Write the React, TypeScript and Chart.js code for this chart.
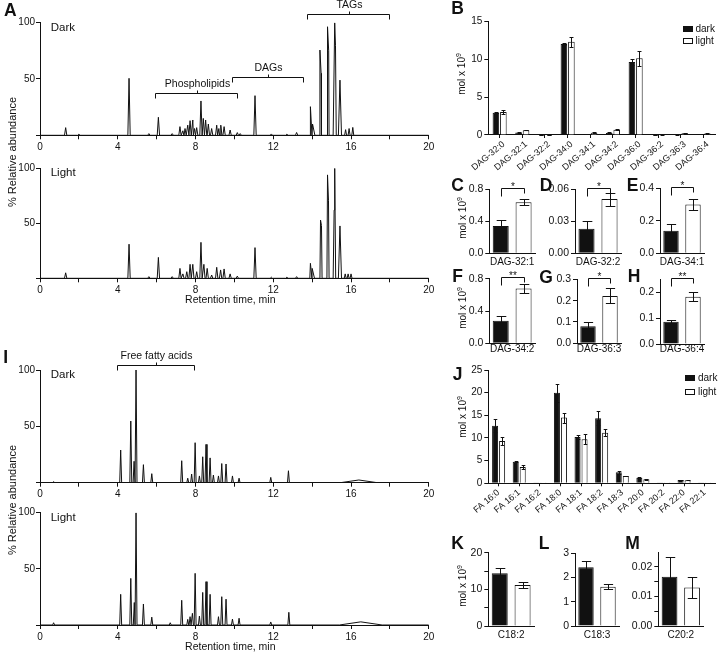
import React, { useEffect, useRef } from 'react';
import { Chart, registerables } from 'chart.js';

Chart.register(...registerables);

const FONT_FAMILY = '"Liberation Sans", Arial, Helvetica, sans-serif';
const INK = '#111';
const PAGE_W = 720;
const PAGE_H = 652;

Chart.defaults.font.family = FONT_FAMILY;
Chart.defaults.color = INK;

// ---------------- Chromatograms: peak retention time (min), height (%), half-width (min)
const aDarkTimes = [1.32, 2.0, 4.58, 5.6, 6.09, 6.8, 7.2, 7.35, 7.46, 7.6, 7.72, 7.86, 7.95, 8.06, 8.28, 8.4, 8.52, 8.66, 8.83, 9.09, 9.2, 9.3, 9.47, 9.78, 10.15, 10.3, 11.06, 11.9, 12.7, 13.2, 13.91, 14.02, 14.4, 14.46, 14.79, 14.85, 15.16, 15.2, 15.43, 15.72, 15.9, 16.09];
const aDarkHeights = [6.8, 1, 50.6, 1.5, 16, 1.5, 7.7, 4, 6, 9, 13, 13.6, 6, 6.8, 30.5, 15, 13.6, 10, 6, 9, 6, 9, 7.7, 4.7, 2.4, 1.5, 35.2, 1.2, 1, 2.5, 25.4, 10, 75.7, 55, 96.4, 75, 100, 80, 49, 5, 6, 7];
const aDarkWidths = [0.06, 0.06, 0.06, 0.06, 0.06, 0.06, 0.06, 0.06, 0.06, 0.06, 0.06, 0.06, 0.06, 0.06, 0.06, 0.06, 0.06, 0.06, 0.06, 0.06, 0.06, 0.06, 0.06, 0.06, 0.06, 0.06, 0.06, 0.06, 0.06, 0.06, 0.08, 0.12, 0.08, 0.08, 0.08, 0.08, 0.08, 0.08, 0.08, 0.05, 0.05, 0.05];

const aLightTimes = [1.32, 4.58, 5.6, 6.09, 6.8, 7.2, 7.35, 7.55, 7.72, 7.86, 8.06, 8.28, 8.43, 8.6, 8.83, 9.09, 9.29, 9.47, 9.78, 10.15, 11.06, 11.9, 12.7, 13.2, 13.91, 14.0, 14.43, 14.48, 14.79, 14.84, 15.13, 15.16, 15.43, 15.7, 15.85, 16.0];
const aLightHeights = [5, 31, 1.5, 19, 1.5, 9, 4, 6, 12.7, 12.7, 6, 32.7, 12.7, 9, 3, 10, 7.6, 8.5, 4, 2, 27.9, 1, 1, 1.5, 13.6, 9, 53, 48, 94, 71, 62, 100, 47.6, 4, 4, 4];
const aLightWidths = [0.06, 0.06, 0.06, 0.06, 0.06, 0.06, 0.06, 0.06, 0.06, 0.06, 0.06, 0.06, 0.06, 0.06, 0.06, 0.06, 0.06, 0.06, 0.06, 0.06, 0.06, 0.06, 0.06, 0.06, 0.08, 0.12, 0.08, 0.08, 0.08, 0.08, 0.08, 0.08, 0.08, 0.05, 0.05, 0.05];

const iDarkTimes = [0.7, 4.15, 4.67, 4.84, 4.94, 5.32, 5.75, 7.29, 7.6, 7.8, 7.98, 8.2, 8.37, 8.54, 8.75, 8.92, 9.18, 9.35, 9.57, 9.9, 10.24, 11.87, 12.78, 16.4];
const iDarkHeights = [1, 29, 54.7, 19, 100, 16, 8, 19.5, 4, 7.7, 35.5, 6, 23, 34, 22, 6.8, 6, 17, 16.6, 6, 4, 4.7, 10.6, 2.4];
const iDarkWidths = [0.05, 0.05, 0.05, 0.05, 0.05, 0.05, 0.05, 0.05, 0.05, 0.05, 0.05, 0.05, 0.05, 0.05, 0.05, 0.05, 0.05, 0.05, 0.05, 0.05, 0.05, 0.05, 0.05, 0.95];

const iLightTimes = [0.7, 4.15, 4.67, 4.85, 4.94, 5.32, 5.75, 6.7, 7.29, 7.6, 7.72, 7.84, 7.98, 8.2, 8.37, 8.54, 8.75, 9.18, 9.35, 9.57, 9.9, 10.24, 11.87, 12.8, 16.5];
const iLightHeights = [2, 27.3, 41.5, 20, 100, 18.7, 7, 2, 22, 5, 7.4, 10.4, 46, 8, 29, 38.6, 27.3, 7.4, 25.2, 23, 5.3, 6, 2.7, 11.3, 2.8];
const iLightWidths = [0.05, 0.05, 0.05, 0.05, 0.05, 0.05, 0.05, 0.05, 0.05, 0.05, 0.05, 0.05, 0.05, 0.05, 0.05, 0.05, 0.05, 0.05, 0.05, 0.05, 0.05, 0.05, 0.05, 0.05, 1.1];

const retentionTicks = [0, 2, 4, 6, 8, 10, 12, 14, 16, 18, 20];
const retentionLabeled = [0, 4, 8, 12, 16, 20];
const abundanceTicks = [0, 50, 100];
const abundanceLabeled = [50, 100];

// lipid class brackets (retention window, level in %)
const aBracketLabels = ['Phospholipids', 'DAGs', 'TAGs'];
const aBracketStart = [5.93, 9.9, 13.71];
const aBracketEnd = [10.12, 13.52, 17.93];
const aBracketLevel = [38, 51.5, 107.7];
const iBracketLabels = ['Free fatty acids'];
const iBracketStart = [3.95];
const iBracketEnd = [7.94];
const iBracketLevel = [104.4];

// ---------------- Panel B: DAG species (mol x 10^9)
const dagSpecies = ['DAG-32:0', 'DAG-32:1', 'DAG-32:2', 'DAG-34:0', 'DAG-34:1', 'DAG-34:2', 'DAG-36:0', 'DAG-36:2', 'DAG-36:3', 'DAG-36:4'];
const dagDark = [2.96, 0.34, 0.023, 12.04, 0.138, 0.28, 9.66, 0.05, 0.08, 0.086];
const dagDarkErr = [0.05, 0.08, 0.007, 0.13, 0.039, 0.062, 0.35, 0.01, 0.02, 0.008];
const dagLight = [3.04, 0.635, 0.0506, 12.35, 0.299, 0.68, 10.15, 0.08, 0.222, 0.183];
const dagLightErr = [0.27, 0.035, 0.006, 0.65, 0.036, 0.054, 1.0, 0.02, 0.035, 0.017];
const dagTicks = [0, 5, 10, 15];

// ---------------- Panels C-H
const dagPanelNames = ['DAG-32:1', 'DAG-32:2', 'DAG-34:1', 'DAG-34:2', 'DAG-36:3', 'DAG-36:4'];
const dagPanelDark = [0.34, 0.023, 0.138, 0.28, 0.08, 0.086];
const dagPanelDarkErr = [0.08, 0.007, 0.039, 0.062, 0.02, 0.008];
const dagPanelLight = [0.635, 0.0506, 0.299, 0.68, 0.222, 0.183];
const dagPanelLightErr = [0.035, 0.006, 0.036, 0.054, 0.035, 0.017];
const dagPanelStars = ['*', '*', '*', '**', '*', '**'];
const dagPanelMax = [0.8, 0.06, 0.4, 0.8, 0.3, 0.25];
const dagPanelTicks = [[0, 0.4, 0.8], [0, 0.03, 0.06], [0, 0.2, 0.4], [0, 0.4, 0.8], [0, 0.1, 0.2, 0.3], [0, 0.1, 0.2]];
const dagPanelDecimals = [1, 2, 1, 1, 1, 1];

// ---------------- Panel J: fatty acids
const faSpecies = ['FA 16:0', 'FA 16:1', 'FA 16:2', 'FA 18:0', 'FA 18:1', 'FA 18:2', 'FA 18:3', 'FA 20:0', 'FA 20:2', 'FA 22:0', 'FA 22:1'];
const faDark = [12.7, 4.78, 0.05, 20.0, 10.2, 14.36, 2.42, 1.25, 0.0166, 0.74, 0.03];
const faDarkErr = [1.4, 0.15, 0.01, 2.0, 0.45, 1.55, 0.26, 0.1, 0.0066, 0.05, 0.01];
const faLight = [9.34, 3.6, 0.05, 14.5, 9.7, 11.18, 1.62, 0.88, 0.013, 0.7, 0.03];
const faLightErr = [0.95, 0.4, 0.01, 1.1, 1.1, 0.8, 0.1, 0.06, 0.0034, 0.05, 0.01];
const faTicks = [0, 5, 10, 15, 20, 25];

// ---------------- Panels K-M
const faPanelNames = ['C18:2', 'C18:3', 'C20:2'];
const faPanelDark = [14.36, 2.42, 0.0166];
const faPanelDarkErr = [1.55, 0.26, 0.0066];
const faPanelLight = [11.18, 1.62, 0.013];
const faPanelLightErr = [0.8, 0.1, 0.0034];
const faPanelMax = [20, 3, 0.025];
const faPanelTicks = [[0, 5, 10, 15, 20], [0, 1, 2, 3], [0, 0.005, 0.01, 0.015, 0.02]];
const faPanelLabeled = [[0, 10, 20], [0, 1, 2, 3], [0, 0.01, 0.02]];
const faPanelDecimals = [0, 0, 2];

// ---------------- Layout (page pixel boxes of plot areas)
type Box = { l: number; t: number; r: number; b: number };
const LAYOUT = {
  aDark: { l: 40, t: 22.7, r: 428.8, b: 135.3 },
  aLight: { l: 40, t: 168.3, r: 428.8, b: 278.3 },
  iDark: { l: 40, t: 370, r: 428.8, b: 482.7 },
  iLight: { l: 40, t: 512.7, r: 428.8, b: 625 },
  b: { l: 488.3, t: 21.7, r: 715, b: 135 },
  dag: [
    { l: 489.3, t: 189, r: 535, b: 253.3 },
    { l: 575, t: 189, r: 621, b: 253.3 },
    { l: 660, t: 188, r: 704, b: 253.3 },
    { l: 489.3, t: 278.7, r: 535, b: 343.3 },
    { l: 577, t: 279.3, r: 621, b: 343.3 },
    { l: 660, t: 279.3, r: 704, b: 344 },
  ] as Box[],
  dagLabelY: [262.3, 262.3, 262.3, 349.3, 349.3, 349.3],
  j: { l: 488.3, t: 370, r: 715, b: 483.3 },
  fa: [
    { l: 488.3, t: 552.7, r: 534, b: 626 },
    { l: 575, t: 553.3, r: 619, b: 626 },
    { l: 658.3, t: 552, r: 703.3, b: 626 },
  ] as Box[],
  faLabelY: 635,
};

const tickFont = { family: FONT_FAMILY, size: 10 };
const near = (a: number, b: number) => Math.abs(a - b) < 1e-9;
// padding so that the plot area lands exactly on the box, given fixed axis band sizes
const pad = (box: Box, yw: number, xh: number) => ({
  left: box.l - yw,
  top: box.t,
  right: PAGE_W - box.r,
  bottom: PAGE_H - box.b - xh,
});
const fixWidth = (w: number) => (s: any) => {
  s.width = w;
};
const fixHeight = (h: number) => (s: any) => {
  s.height = h;
};
const fixedTicks = (values: number[]) => (scale: any) => {
  scale.ticks = values.map((v) => ({ value: v }));
};

function buildTrace(times: number[], heights: number[], widths: number[]) {
  const pts: { x: number; y: number }[] = [
    { x: 0, y: 0 },
    { x: 20, y: 0 },
  ];
  times.forEach((t, i) => {
    const w = widths[i];
    pts.push({ x: t - w, y: 0 }, { x: t, y: heights[i] }, { x: t + w, y: 0 });
  });
  pts.sort((a, b) => a.x - b.x);
  return pts;
}

function bracketPlugin(labels: string[], starts: number[], ends: number[], levels: number[]) {
  return {
    id: 'classBrackets',
    afterDraw(chart: any) {
      const { ctx } = chart;
      const xs = chart.scales.x;
      const ys = chart.scales.y;
      ctx.save();
      ctx.strokeStyle = INK;
      ctx.fillStyle = INK;
      ctx.lineWidth = 1;
      ctx.font = `10.5px ${FONT_FAMILY}`;
      ctx.textAlign = 'center';
      ctx.textBaseline = 'middle';
      labels.forEach((label, i) => {
        const x1 = Math.round(xs.getPixelForValue(starts[i])) + 0.5;
        const x2 = Math.round(xs.getPixelForValue(ends[i])) + 0.5;
        const xm = Math.round((x1 + x2) / 2) + 0.5;
        const y = Math.round(ys.getPixelForValue(levels[i])) + 0.5;
        ctx.beginPath();
        ctx.moveTo(x1, y + 5);
        ctx.lineTo(x1, y);
        ctx.lineTo(x2, y);
        ctx.lineTo(x2, y + 5);
        ctx.moveTo(xm, y);
        ctx.lineTo(xm, y - 3);
        ctx.stroke();
        ctx.fillText(label, xm, y - 9.5);
      });
      ctx.restore();
    },
  };
}

function errorBarsPlugin(values: number[][], errors: number[][]) {
  return {
    id: 'errorBars',
    afterDatasetsDraw(chart: any) {
      const { ctx } = chart;
      const ys = chart.scales.y;
      ctx.save();
      ctx.strokeStyle = INK;
      ctx.lineWidth = 1;
      values.forEach((vals, di) => {
        const meta = chart.getDatasetMeta(di);
        meta.data.forEach((bar: any, i: number) => {
          const e = errors[di][i];
          if (!e) return;
          const v = vals[i];
          const x = Math.round(bar.x) + 0.5;
          const yt = Math.round(ys.getPixelForValue(v + e)) + 0.5;
          const yb = Math.round(ys.getPixelForValue(Math.max(v - e, 0))) + 0.5;
          const cw = Math.max(bar.width * 0.3, 1.5);
          ctx.beginPath();
          ctx.moveTo(x, yt);
          ctx.lineTo(x, yb);
          ctx.moveTo(x - cw, yt);
          ctx.lineTo(x + cw, yt);
          ctx.moveTo(x - cw, yb);
          ctx.lineTo(x + cw, yb);
          ctx.stroke();
        });
      });
      ctx.restore();
    },
  };
}

function sigPlugin(text: string) {
  return {
    id: 'sigBracket',
    afterDatasetsDraw(chart: any) {
      const { ctx, chartArea } = chart;
      const meta = chart.getDatasetMeta(0);
      const b0 = meta.data[0];
      const b1 = meta.data[1];
      const x1 = Math.round(b0.x) + 0.5;
      const x2 = Math.round(b1.x) + 0.5;
      const y = Math.round(chartArea.top - 1.5) + 0.5;
      ctx.save();
      ctx.strokeStyle = INK;
      ctx.fillStyle = INK;
      ctx.lineWidth = 1;
      ctx.beginPath();
      ctx.moveTo(x1, y + 8);
      ctx.lineTo(x1, y);
      ctx.lineTo(x2, y);
      ctx.lineTo(x2, y + 5);
      ctx.stroke();
      ctx.font = `10px ${FONT_FAMILY}`;
      ctx.textAlign = 'center';
      ctx.textBaseline = 'alphabetic';
      ctx.fillText(text, (x1 + x2) / 2, y + 1);
      ctx.restore();
    },
  };
}

const axisBorder = { display: true, color: INK, width: 1 };

function chromConfig(box: Box, times: number[], heights: number[], widths: number[], plugins: any[]) {
  const YW = 40;
  const XH = 17;
  return {
    type: 'line',
    data: {
      datasets: [
        {
          data: buildTrace(times, heights, widths),
          borderColor: INK,
          borderWidth: 1,
          pointRadius: 0,
          tension: 0,
          fill: false,
        },
      ],
    },
    options: {
      animation: false,
      responsive: false,
      events: [],
      layout: { padding: pad(box, YW, XH) },
      plugins: { legend: { display: false }, tooltip: { enabled: false } },
      scales: {
        x: {
          type: 'linear',
          min: 0,
          max: 20,
          afterFit: fixHeight(XH),
          afterBuildTicks: fixedTicks(retentionTicks),
          ticks: {
            autoSkip: false,
            maxRotation: 0,
            padding: 2,
            color: INK,
            font: tickFont,
            callback: (v: number) => (retentionLabeled.some((t) => near(t, v)) ? String(v) : ''),
          },
          grid: { drawOnChartArea: false, tickLength: 4, tickColor: INK, tickWidth: 1 },
          border: axisBorder,
        },
        y: {
          type: 'linear',
          min: 0,
          max: 100,
          afterFit: fixWidth(YW),
          afterBuildTicks: fixedTicks(abundanceTicks),
          ticks: {
            padding: 1,
            color: INK,
            font: tickFont,
            callback: (v: number) => (abundanceLabeled.some((t) => near(t, v)) ? String(v) : ''),
          },
          grid: { drawOnChartArea: false, tickLength: 4, tickColor: INK, tickWidth: 1 },
          border: axisBorder,
        },
      },
    },
    plugins,
  };
}

function groupedBarConfig(
  box: Box,
  labels: string[],
  dark: number[],
  darkErr: number[],
  light: number[],
  lightErr: number[],
  max: number,
  ticks: number[],
  barPct: number,
  catPct: number,
  labelSize: number,
  labelShift: number
) {
  const YW = 40;
  const XH = 55;
  return {
    type: 'bar',
    data: {
      labels,
      datasets: [
        { label: 'dark', data: dark, backgroundColor: INK, borderColor: INK, borderWidth: 1, barPercentage: barPct, categoryPercentage: catPct },
        { label: 'light', data: light, backgroundColor: '#fff', borderColor: INK, borderWidth: 1, barPercentage: barPct, categoryPercentage: catPct },
      ],
    },
    options: {
      animation: false,
      responsive: false,
      events: [],
      layout: { padding: pad(box, YW, XH) },
      plugins: { legend: { display: false }, tooltip: { enabled: false } },
      scales: {
        x: {
          afterFit: fixHeight(XH),
          ticks: {
            autoSkip: false,
            minRotation: 40,
            maxRotation: 40,
            padding: 1,
            labelOffset: labelShift,
            color: INK,
            font: { family: FONT_FAMILY, size: labelSize },
          },
          grid: { offset: false, drawOnChartArea: false, tickLength: 3, tickColor: INK },
          border: axisBorder,
        },
        y: {
          min: 0,
          max,
          afterFit: fixWidth(YW),
          afterBuildTicks: fixedTicks(ticks),
          ticks: { padding: 2, color: INK, font: tickFont },
          grid: { drawOnChartArea: false, tickLength: 4, tickColor: INK },
          border: axisBorder,
        },
      },
    },
    plugins: [errorBarsPlugin([dark, light], [darkErr, lightErr])],
  };
}

function pairConfig(
  box: Box,
  dark: number,
  darkErr: number,
  light: number,
  lightErr: number,
  max: number,
  ticks: number[],
  labeled: number[],
  decimals: number,
  stars: string | null
) {
  const YW = 38;
  const plugins: any[] = [errorBarsPlugin([[dark, light]], [[darkErr, lightErr]])];
  if (stars) plugins.push(sigPlugin(stars));
  return {
    type: 'bar',
    data: {
      labels: ['dark', 'light'],
      datasets: [
        {
          data: [dark, light],
          backgroundColor: [INK, '#fff'],
          borderColor: INK,
          borderWidth: 1,
          barPercentage: 0.7,
          categoryPercentage: 1,
        },
      ],
    },
    options: {
      animation: false,
      responsive: false,
      events: [],
      layout: { padding: pad(box, YW, 0) },
      plugins: { legend: { display: false }, tooltip: { enabled: false } },
      scales: {
        x: {
          afterFit: fixHeight(0),
          ticks: { display: false },
          grid: { display: false },
          border: axisBorder,
        },
        y: {
          min: 0,
          max,
          afterFit: fixWidth(YW),
          afterBuildTicks: fixedTicks(ticks),
          ticks: {
            padding: 2,
            color: INK,
            font: { family: FONT_FAMILY, size: 10.5 },
            callback: (v: number) => (labeled.some((t) => near(t, v)) ? v.toFixed(decimals) : ''),
          },
          grid: { drawOnChartArea: false, tickLength: 4, tickColor: INK },
          border: axisBorder,
        },
      },
    },
    plugins,
  };
}

function makeConfigs(): any[] {
  const cfgs: any[] = [];
  cfgs.push(
    chromConfig(LAYOUT.aDark, aDarkTimes, aDarkHeights, aDarkWidths, [
      bracketPlugin(aBracketLabels, aBracketStart, aBracketEnd, aBracketLevel),
    ])
  );
  cfgs.push(chromConfig(LAYOUT.aLight, aLightTimes, aLightHeights, aLightWidths, []));
  cfgs.push(
    chromConfig(LAYOUT.iDark, iDarkTimes, iDarkHeights, iDarkWidths, [
      bracketPlugin(iBracketLabels, iBracketStart, iBracketEnd, iBracketLevel),
    ])
  );
  cfgs.push(chromConfig(LAYOUT.iLight, iLightTimes, iLightHeights, iLightWidths, []));
  cfgs.push(groupedBarConfig(LAYOUT.b, dagSpecies, dagDark, dagDarkErr, dagLight, dagLightErr, 15, dagTicks, 0.88, 0.66, 9, 4));
  dagPanelNames.forEach((_, i) => {
    cfgs.push(
      pairConfig(
        LAYOUT.dag[i],
        dagPanelDark[i],
        dagPanelDarkErr[i],
        dagPanelLight[i],
        dagPanelLightErr[i],
        dagPanelMax[i],
        dagPanelTicks[i],
        dagPanelTicks[i],
        dagPanelDecimals[i],
        dagPanelStars[i]
      )
    );
  });
  cfgs.push(groupedBarConfig(LAYOUT.j, faSpecies, faDark, faDarkErr, faLight, faLightErr, 25, faTicks, 0.86, 0.68, 9, 0));
  faPanelNames.forEach((_, i) => {
    cfgs.push(
      pairConfig(
        LAYOUT.fa[i],
        faPanelDark[i],
        faPanelDarkErr[i],
        faPanelLight[i],
        faPanelLightErr[i],
        faPanelMax[i],
        faPanelTicks[i],
        faPanelLabeled[i],
        faPanelDecimals[i],
        null
      )
    );
  });
  return cfgs;
}

const CHART_COUNT = 4 + 1 + dagPanelNames.length + 1 + faPanelNames.length;

type TextSpec = { text: React.ReactNode; x: number; y: number; size: number; bold?: boolean; rotate?: boolean; left?: boolean };

const panelLetters: TextSpec[] = [
  { text: 'A', x: 10.3, y: 11 },
  { text: 'B', x: 457.5, y: 9 },
  { text: 'C', x: 457.5, y: 186 },
  { text: 'D', x: 546, y: 186 },
  { text: 'E', x: 632.5, y: 186 },
  { text: 'F', x: 457.5, y: 276.7 },
  { text: 'G', x: 546, y: 277.5 },
  { text: 'H', x: 634, y: 276.7 },
  { text: 'I', x: 5.7, y: 358 },
  { text: 'J', x: 457.5, y: 375 },
  { text: 'K', x: 457.5, y: 544 },
  { text: 'L', x: 544, y: 544 },
  { text: 'M', x: 632.5, y: 544 },
].map((p) => ({ ...p, size: 17.5, bold: true }));

const molTitle = (
  <span>
    mol x 10<sup style={{ fontSize: '70%', verticalAlign: 'super', lineHeight: 0 }}>9</sup>
  </span>
);

const texts: TextSpec[] = [
  ...panelLetters,
  { text: 'Dark', x: 50.7, y: 27.5, size: 11.5, left: true },
  { text: 'Light', x: 50.7, y: 173, size: 11.5, left: true },
  { text: 'Dark', x: 50.7, y: 375, size: 11.5, left: true },
  { text: 'Light', x: 50.7, y: 517.7, size: 11.5, left: true },
  { text: '% Relative abundance', x: 12.3, y: 151.7, size: 11, rotate: true },
  { text: '% Relative abundance', x: 12.3, y: 500, size: 11, rotate: true },
  { text: 'Retention time, min', x: 230.3, y: 299, size: 10.5 },
  { text: 'Retention time, min', x: 230.3, y: 645.7, size: 10.5 },
  { text: molTitle, x: 462, y: 74, size: 10, rotate: true },
  { text: molTitle, x: 463.3, y: 217.5, size: 10, rotate: true },
  { text: molTitle, x: 463.3, y: 308, size: 10, rotate: true },
  { text: molTitle, x: 463.3, y: 416.7, size: 10, rotate: true },
  { text: molTitle, x: 463.3, y: 586, size: 10, rotate: true },
  ...dagPanelNames.map((name, i) => ({
    text: name,
    x: (LAYOUT.dag[i].l + LAYOUT.dag[i].r) / 2,
    y: LAYOUT.dagLabelY[i],
    size: 10,
  })),
  ...faPanelNames.map((name, i) => ({
    text: name,
    x: (LAYOUT.fa[i].l + LAYOUT.fa[i].r) / 2,
    y: LAYOUT.faLabelY,
    size: 10,
  })),
];

const legends = [
  { x: 682.5, y: 29.3, gap: 12 },
  { x: 685, y: 378, gap: 13.7 },
];

function TextItem({ spec }: { spec: TextSpec }) {
  const transform = spec.rotate
    ? 'translate(-50%, -50%) rotate(-90deg)'
    : spec.left
    ? 'translate(0, -50%)'
    : 'translate(-50%, -50%)';
  return (
    <div
      style={{
        position: 'absolute',
        left: spec.x,
        top: spec.y,
        transform,
        fontSize: spec.size,
        fontWeight: spec.bold ? 700 : 400,
        lineHeight: 1,
        whiteSpace: 'nowrap',
        color: INK,
      }}
    >
      {spec.text}
    </div>
  );
}

function Legend({ x, y, gap }: { x: number; y: number; gap: number }) {
  const rows = [
    { label: 'dark', fill: INK },
    { label: 'light', fill: '#fff' },
  ];
  return (
    <>
      {rows.map((r, i) => (
        <React.Fragment key={r.label}>
          <div
            style={{
              position: 'absolute',
              left: x,
              top: y + i * gap - 3,
              width: 10,
              height: 6,
              boxSizing: 'border-box',
              border: `1px solid ${INK}`,
              background: r.fill,
            }}
          />
          <div
            style={{
              position: 'absolute',
              left: x + 13,
              top: y + i * gap,
              transform: 'translate(0, -50%)',
              fontSize: 10,
              lineHeight: 1,
              whiteSpace: 'nowrap',
              color: INK,
            }}
          >
            {r.label}
          </div>
        </React.Fragment>
      ))}
    </>
  );
}

export default function App() {
  const refs = useRef<(HTMLCanvasElement | null)[]>([]);

  useEffect(() => {
    const configs = makeConfigs();
    const charts = configs.map((cfg, i) => new Chart(refs.current[i] as HTMLCanvasElement, cfg));
    return () => charts.forEach((c) => c.destroy());
  }, []);

  return (
    <div
      style={{
        position: 'absolute',
        left: 0,
        top: 0,
        width: PAGE_W,
        height: PAGE_H,
        background: '#fff',
        overflow: 'hidden',
        fontFamily: FONT_FAMILY,
      }}
    >
      {Array.from({ length: CHART_COUNT }).map((_, i) => (
        <canvas
          key={i}
          ref={(el) => {
            refs.current[i] = el;
          }}
          width={PAGE_W}
          height={PAGE_H}
          style={{ position: 'absolute', left: 0, top: 0, width: PAGE_W, height: PAGE_H }}
        />
      ))}
      {texts.map((t, i) => (
        <TextItem key={i} spec={t} />
      ))}
      {legends.map((l, i) => (
        <Legend key={i} x={l.x} y={l.y} gap={l.gap} />
      ))}
    </div>
  );
}
